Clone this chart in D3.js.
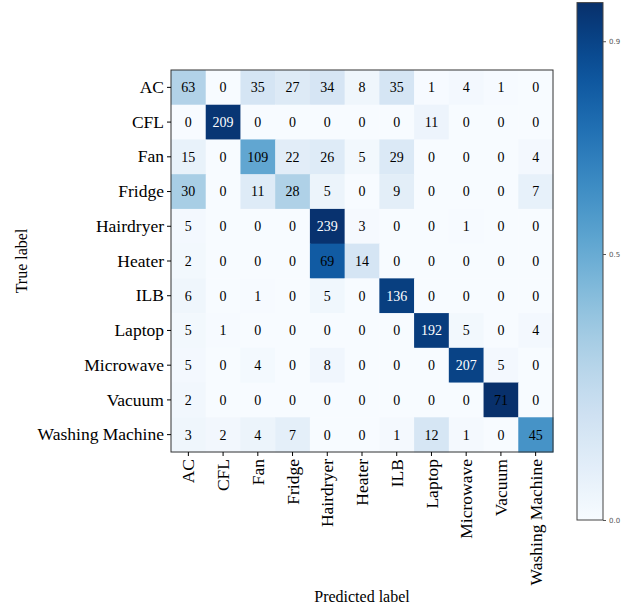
<!DOCTYPE html>
<html>
<head>
<meta charset="utf-8">
<script src="https://cdn.jsdelivr.net/npm/d3@7"></script>
<style>
  body { margin: 0; background: #fff; }
  svg { display: block; }
  .serif, .tick text { font-family: "Times New Roman", "Liberation Serif", "DejaVu Serif", serif; }
</style>
</head>
<body>
<div id="chart"></div>
<script>
const classes = ['AC', 'CFL', 'Fan', 'Fridge', 'Hairdryer', 'Heater', 'ILB',
  'Laptop', 'Microwave', 'Vacuum', 'Washing Machine'];

// rows = true label, cols = predicted label
const counts = [
  [63, 0, 35, 27, 34, 8, 35, 1, 4, 1, 0],
  [0, 209, 0, 0, 0, 0, 0, 11, 0, 0, 0],
  [15, 0, 109, 22, 26, 5, 29, 0, 0, 0, 4],
  [30, 0, 11, 28, 5, 0, 9, 0, 0, 0, 7],
  [5, 0, 0, 0, 239, 3, 0, 0, 1, 0, 0],
  [2, 0, 0, 0, 69, 14, 0, 0, 0, 0, 0],
  [6, 0, 1, 0, 5, 0, 136, 0, 0, 0, 0],
  [5, 1, 0, 0, 0, 0, 0, 192, 5, 0, 4],
  [5, 0, 4, 0, 8, 0, 0, 0, 207, 5, 0],
  [2, 0, 0, 0, 0, 0, 0, 0, 0, 71, 0],
  [3, 2, 4, 7, 0, 0, 1, 12, 1, 0, 45]
];

const cbTicks = [0.0, 0.5, 0.9];

const width = 636, height = 608;
const margin = { top: 70, left: 171 };
const size = 382;

// colour by row-normalised value, text colour by raw count
const norm = counts.map(row => {
  let s = d3.sum(row);
  return row.map(v => v / s);
});
const normMax = d3.max(norm.flat());
const thresh = d3.max(counts.flat()) / 2;

const color = d3.scaleSequential(d3.interpolateBlues).domain([0, normMax]);

const svg = d3.select('#chart').append('svg')
  .attr('width', width)
  .attr('height', height);

const x = d3.scaleBand().domain(classes).range([0, size]);
const y = d3.scaleBand().domain(classes).range([0, size]);

const plot = svg.append('g')
  .attr('transform', `translate(${margin.left},${margin.top})`);

const cells = [];
counts.forEach((row, i) => row.forEach((v, j) => {
  cells.push({ r: classes[i], c: classes[j], v: v, n: norm[i][j] });
}));

plot.selectAll('rect.cell')
  .data(cells)
  .enter()
  .append('rect')
  .attr('class', 'cell')
  .attr('x', d => x(d.c))
  .attr('y', d => y(d.r))
  .attr('width', x.bandwidth() + 0.5)
  .attr('height', y.bandwidth() + 0.5)
  .attr('fill', d => color(d.n));

plot.selectAll('text.val')
  .data(cells)
  .enter()
  .append('text')
  .attr('class', 'val serif')
  .attr('x', d => x(d.c) + x.bandwidth() / 2)
  .attr('y', d => y(d.r) + y.bandwidth() / 2)
  .attr('text-anchor', 'middle')
  .attr('dy', '0.35em')
  .style('font-size', '14px')
  .attr('fill', d => d.v > thresh ? '#fff' : '#000')
  .text(d => d.v);

plot.append('rect')
  .attr('width', size)
  .attr('height', size)
  .attr('fill', 'none')
  .attr('stroke', '#333')
  .attr('stroke-width', 1);

const yAxis = plot.append('g')
  .call(d3.axisLeft(y).tickSize(4).tickPadding(3));
yAxis.select('.domain').remove();
yAxis.selectAll('text').style('font-size', '17.5px').attr('fill', '#000');

const xAxis = plot.append('g')
  .attr('transform', `translate(0,${size})`)
  .call(d3.axisBottom(x).tickSize(4).tickPadding(3));
xAxis.select('.domain').remove();
xAxis.selectAll('text')
  .style('font-size', '17.5px')
  .attr('fill', '#000')
  .attr('transform', 'rotate(-90)')
  .attr('text-anchor', 'end')
  .attr('x', -7)
  .attr('y', 0)
  .attr('dy', '0.35em');

svg.append('text')
  .attr('class', 'serif')
  .attr('x', margin.left + size / 2)
  .attr('y', 602)
  .attr('text-anchor', 'middle')
  .style('font-size', '16px')
  .text('Predicted label');

svg.append('text')
  .attr('class', 'serif')
  .attr('transform', `translate(27,${margin.top + size / 2}) rotate(-90)`)
  .attr('text-anchor', 'middle')
  .style('font-size', '16px')
  .text('True label');

/* COLORBAR */
const cb = { x: 577, top: 2.6, bottom: 520, w: 26 };
const cbScale = d3.scaleLinear().domain([0, normMax]).range([cb.bottom, cb.top]);

const defs = svg.append('defs');
const grad = defs.append('linearGradient')
  .attr('id', 'cbgrad')
  .attr('x1', 0).attr('y1', 1).attr('x2', 0).attr('y2', 0);
d3.range(0, 1.0001, 0.05).forEach(t => {
  grad.append('stop')
    .attr('offset', t)
    .attr('stop-color', color(t * normMax));
});

svg.append('rect')
  .attr('x', cb.x)
  .attr('y', cb.top)
  .attr('width', cb.w)
  .attr('height', cb.bottom - cb.top)
  .attr('fill', 'url(#cbgrad)')
  .attr('stroke', '#444')
  .attr('stroke-width', 1);

const cbAxis = svg.append('g')
  .attr('transform', `translate(${cb.x + cb.w},0)`)
  .call(d3.axisRight(cbScale).tickValues(cbTicks).tickFormat(d3.format('.1f')).tickSize(3).tickPadding(3));
cbAxis.select('.domain').remove();
cbAxis.selectAll('text')
  .style('font-family', '"DejaVu Sans", sans-serif')
  .style('font-size', '7px')
  .attr('fill', '#555');
cbAxis.selectAll('line').attr('stroke', '#555');
</script>
</body>
</html>
